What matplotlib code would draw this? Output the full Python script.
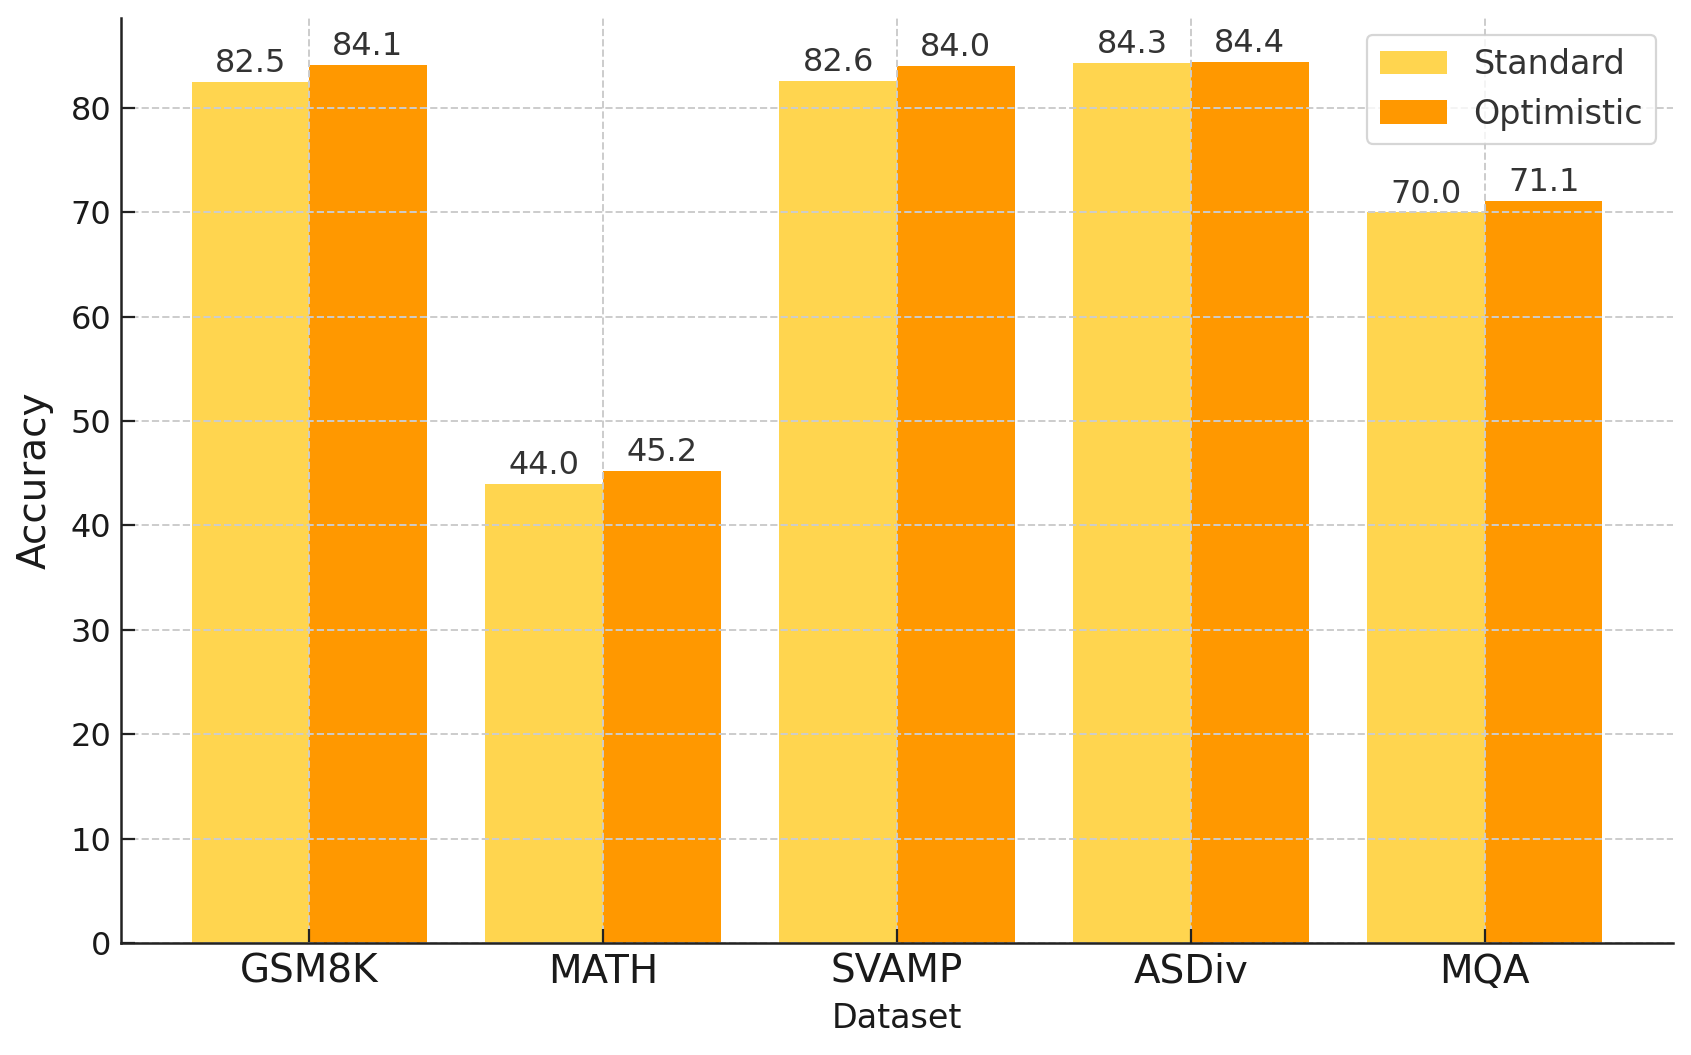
import matplotlib
matplotlib.use('Agg')
import matplotlib.pyplot as plt
import numpy as np

datasets = ['GSM8K', 'MATH', 'SVAMP', 'ASDiv', 'MQA']
standard = [82.5, 44.0, 82.6, 84.3, 70.0]
optimistic = [84.1, 45.2, 84.0, 84.4, 71.1]

plt.rcParams['font.family'] = ['DejaVu Sans']

fig = plt.figure(figsize=(1691 / 200, 1055 / 200), dpi=200)
ax = fig.add_axes([121 / 1691, 1 - 943 / 1055, (1673 - 121) / 1691, (943 - 18) / 1055])

x = np.arange(len(datasets))
w = 0.4
b1 = ax.bar(x - w / 2, standard, w, color='#FFD54F', label='Standard')
b2 = ax.bar(x + w / 2, optimistic, w, color='#FF9800', label='Optimistic')

for bars in (b1, b2):
    for rect in bars:
        h = rect.get_height()
        ax.annotate(f'{h:.1f}', xy=(rect.get_x() + rect.get_width() / 2, h),
                    xytext=(0, 1), textcoords='offset points',
                    ha='center', va='bottom', fontsize=11.5, color='#333333')

ax.set_xticks(x)
ax.set_xticklabels(datasets, fontsize=14, color='#1a1a1a')
ax.tick_params(axis='y', labelsize=11.5, labelcolor='#1a1a1a')
ax.tick_params(direction='in', length=5, width=0.8, color='#222222')
ax.set_xlabel('Dataset', fontsize=12, color='#1a1a1a', labelpad=4)
ax.set_ylabel('Accuracy', fontsize=14, color='#1a1a1a', labelpad=6)

ax.grid(True, linestyle='--', color='#cccccc', linewidth=0.7)
for s in ['top', 'right']:
    ax.spines[s].set_visible(False)
for s in ['left', 'bottom']:
    ax.spines[s].set_linewidth(0.9)
    ax.spines[s].set_color('#222222')

leg = ax.legend(loc='upper right', fontsize=12, edgecolor='#cccccc', labelcolor='#333333')
leg.get_frame().set_linewidth(0.8)

fig.savefig('out.png', dpi=200)
